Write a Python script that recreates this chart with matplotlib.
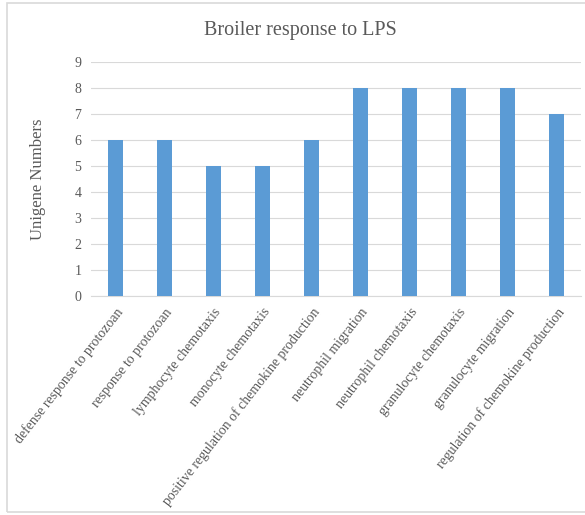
import matplotlib.pyplot as plt
from matplotlib.patches import Rectangle

terms = ['defense response to protozoan', 'response to protozoan',
         'lymphocyte chemotaxis', 'monocyte chemotaxis',
         'positive regulation of chemokine production', 'neutrophil migration',
         'neutrophil chemotaxis', 'granulocyte chemotaxis',
         'granulocyte migration', 'regulation of chemokine production']
counts = [6, 6, 5, 5, 6, 8, 8, 8, 8, 7]
yticks = list(range(0, 10))

plt.rcParams['font.family'] = ['Liberation Serif', 'DejaVu Serif']
txt = '#595959'

fig = plt.figure(figsize=(5.85, 5.15), dpi=100)
# thin gray frame round the chart (right side runs off the edge)
fig.patches.append(Rectangle((6.5/585, 3/515), 600/585, 509/515, transform=fig.transFigure,
                             fill=False, edgecolor='#d9d9d9', linewidth=1.2))

ax = fig.add_axes([91/585, 1 - 296/515, 490/585, 234/515])
x = range(len(terms))
ax.bar(x, counts, width=0.32, color='#5b9bd5', zorder=3)
ax.set_xlim(-0.5, len(terms) - 0.5)
ax.set_ylim(0, 9)
ax.set_yticks(yticks)
ax.yaxis.grid(True, color='#d9d9d9', linewidth=0.8, zorder=0)
for s in ['top', 'right', 'left']:
    ax.spines[s].set_visible(False)
ax.spines['bottom'].set_color('#d9d9d9')
ax.tick_params(axis='both', length=0, colors=txt, labelsize=10)
ax.tick_params(axis='y', pad=7)
ax.set_xticks(list(x))
ax.set_xticklabels(terms, rotation=52, ha='right', rotation_mode='anchor')
ax.tick_params(axis='x', pad=7)
ax.set_ylabel('Unigene Numbers', color=txt, fontsize=12, labelpad=20)

fig.text(0.513, 1 - 31/515, 'Broiler response to LPS', ha='center', va='center',
         color=txt, fontsize=14.5)

fig.savefig('out.png', dpi=100)
